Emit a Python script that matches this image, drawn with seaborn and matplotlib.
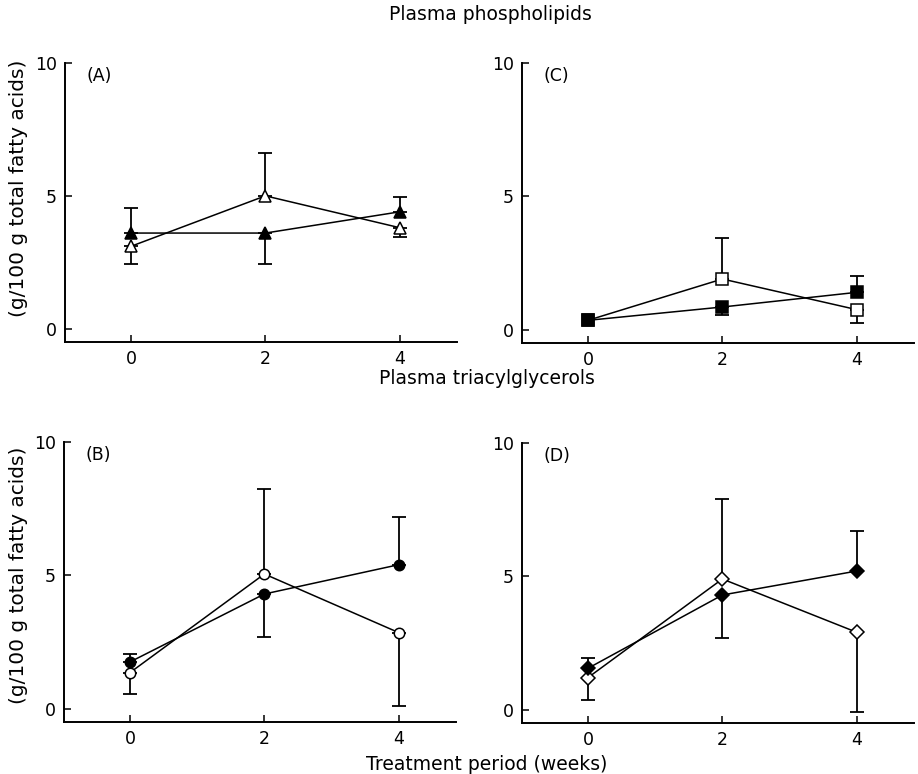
import numpy as np
import pandas as pd
import matplotlib
matplotlib.use("Agg")
import matplotlib.pyplot as plt
import seaborn as sns

weeks = [0, 2, 4]
x_ticks = [0, 2, 4]
y_ticks = [0, 5, 10]

# Panel A: plasma phospholipids (triangles)
a_filled = [3.6, 3.6, 4.4]
a_filled_lo = [0.0, 1.15, 0.0]
a_filled_hi = [0.95, 0.0, 0.55]
a_open = [3.1, 5.0, 3.8]
a_open_lo = [0.65, 0.0, 0.35]
a_open_hi = [0.0, 1.6, 0.0]

# Panel C: plasma phospholipids (squares)
c_filled = [0.35, 0.85, 1.4]
c_filled_lo = [0.0, 0.3, 0.0]
c_filled_hi = [0.0, 0.0, 0.6]
c_open = [0.35, 1.9, 0.75]
c_open_lo = [0.0, 0.0, 0.5]
c_open_hi = [0.0, 1.55, 0.0]

# Panel B: plasma triacylglycerols (circles)
b_filled = [1.75, 4.3, 5.4]
b_filled_lo = [0.0, 1.6, 0.0]
b_filled_hi = [0.3, 0.0, 1.8]
b_open = [1.35, 5.05, 2.85]
b_open_lo = [0.8, 0.0, 2.75]
b_open_hi = [0.0, 3.2, 0.0]

# Panel D: plasma triacylglycerols (diamonds)
d_filled = [1.55, 4.3, 5.2]
d_filled_lo = [0.0, 1.6, 0.0]
d_filled_hi = [0.4, 0.0, 1.5]
d_open = [1.2, 4.9, 2.9]
d_open_lo = [0.85, 0.0, 3.0]
d_open_hi = [0.0, 3.0, 0.0]

title_top = "Plasma phospholipids"
title_bottom = "Plasma triacylglycerols"
x_label = "Treatment period (weeks)"
y_label = "(g/100 g total fatty acids)"

sns.set_style("ticks")
plt.rcParams['font.family'] = ['DejaVu Sans']
plt.rcParams['text.color'] = 'black'
plt.rcParams['xtick.color'] = 'black'
plt.rcParams['ytick.color'] = 'black'
plt.rcParams['axes.edgecolor'] = 'black'

W, H = 918, 774
fig = plt.figure(figsize=(W / 100, H / 100), dpi=100)


def make_ax(left_px, bottom_px, top_px, width_px):
    return fig.add_axes([left_px / W, (H - bottom_px) / H,
                         width_px / W, (bottom_px - top_px) / H])


def draw_series(ax, mean, lo, hi, marker, filled, ms, z=3):
    df = pd.DataFrame({"week": weeks, "value": mean})
    lo = np.array(lo)
    hi = np.array(hi)
    mask = (lo > 0) | (hi > 0)
    ax.errorbar(np.array(weeks)[mask], np.array(mean)[mask],
                 yerr=[lo[mask], hi[mask]], fmt='none', ecolor='black',
                 elinewidth=1.3, capsize=5, capthick=1.3, zorder=2)
    sns.lineplot(data=df, x="week", y="value", ax=ax, color='black',
                 linewidth=1.1, marker=marker, markersize=ms,
                 markerfacecolor='black' if filled else 'white',
                 markeredgecolor='black', markeredgewidth=1.1, zorder=z)


def style_ax(ax, label):
    ax.set_xlim(-0.98, 4.85)
    ax.set_ylim(-0.5, 10)
    ax.set_xticks(x_ticks)
    ax.set_yticks(y_ticks)
    ax.set_xlabel("")
    ax.set_ylabel("")
    for s in ["top", "right"]:
        ax.spines[s].set_visible(False)
    for s in ["left", "bottom"]:
        ax.spines[s].set_linewidth(1.4)
    ax.tick_params(direction='in', length=5, width=1.1, labelsize=12.5,
                   pad=6, colors='black')
    ax.text(0.055, 0.955, label, transform=ax.transAxes, fontsize=12.5,
            va='center', ha='left')
    ax.patch.set_alpha(0)


axA = make_ax(65, 342, 63, 392)
axC = make_ax(522, 343, 63, 392)
axB = make_ax(64, 722, 442, 392)
axD = make_ax(522, 723, 443, 392)

draw_series(axA, a_open, a_open_lo, a_open_hi, '^', False, 9)
draw_series(axA, a_filled, a_filled_lo, a_filled_hi, '^', True, 9, z=4)
draw_series(axC, c_open, c_open_lo, c_open_hi, 's', False, 8)
draw_series(axC, c_filled, c_filled_lo, c_filled_hi, 's', True, 8, z=4)
draw_series(axB, b_filled, b_filled_lo, b_filled_hi, 'o', True, 7.5)
draw_series(axB, b_open, b_open_lo, b_open_hi, 'o', False, 7.5, z=4)
draw_series(axD, d_open, d_open_lo, d_open_hi, 'D', False, 7)
draw_series(axD, d_filled, d_filled_lo, d_filled_hi, 'D', True, 7, z=4)

style_ax(axA, "(A)")
style_ax(axC, "(C)")
style_ax(axB, "(B)")
style_ax(axD, "(D)")

fs_title = 13.5
fig.text(490 / W, 1 - 14 / H, title_top, ha='center', va='center', fontsize=fs_title)
fig.text(487 / W, 1 - 378 / H, title_bottom, ha='center', va='center', fontsize=fs_title)
fig.text(487 / W, 1 - 764 / H, x_label, ha='center', va='center', fontsize=fs_title)
fig.text(19 / W, 1 - 188 / H, y_label, ha='center', va='center', rotation=90, fontsize=14.5)
fig.text(19 / W, 1 - 575 / H, y_label, ha='center', va='center', rotation=90, fontsize=14.5)

fig.savefig("out.png", dpi=100)
